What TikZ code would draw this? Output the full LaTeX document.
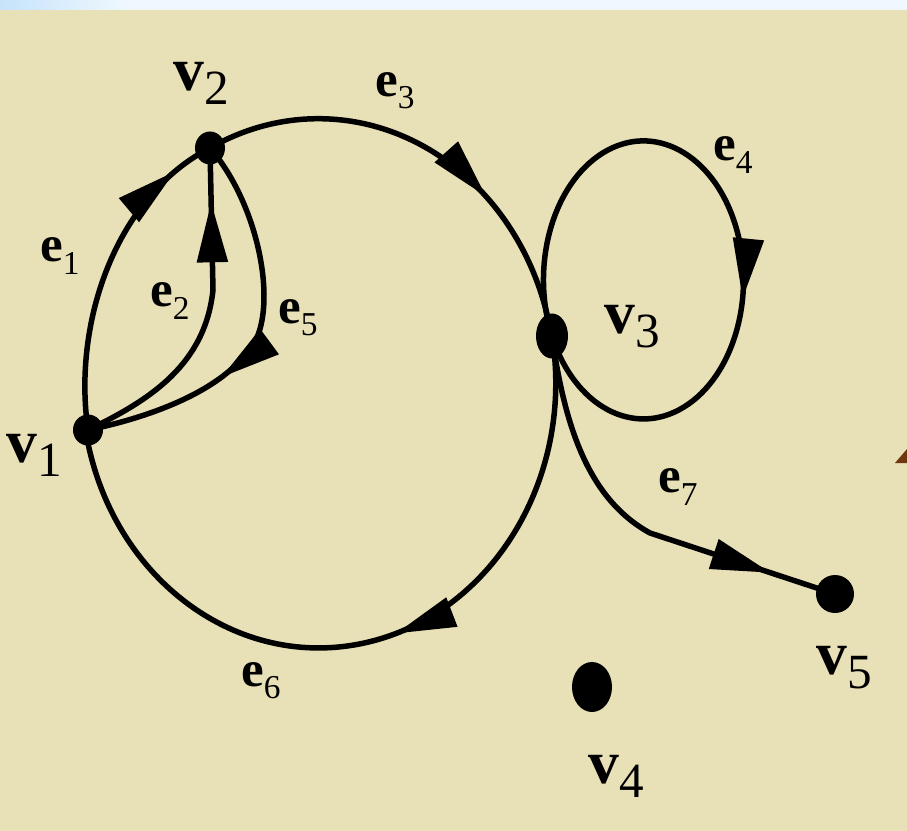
\documentclass[tikz,border=0pt]{standalone}
\usepackage{fontspec}
\setmainfont{Liberation Serif}
\usetikzlibrary{arrows.meta,decorations.markings,shapes.geometric}
\definecolor{paper}{RGB}{232,225,183}
\definecolor{topblue}{RGB}{198,227,251}
\definecolor{topwhite}{RGB}{240,248,253}
\definecolor{rim}{RGB}{110,55,15}
\newcommand{\vname}[1]{{\fontsize{35}{35}\selectfont\bfseries v}\raisebox{-8pt}{\fontsize{28}{28}\selectfont #1}}
\newcommand{\ename}[1]{{\fontsize{29}{29}\selectfont\bfseries e}\raisebox{-7pt}{\fontsize{19}{19}\selectfont #1}}
\tikzset{dot/.style={ellipse, fill=black, inner sep=0pt},
  link/.style={line width=1.1mm},
  arw/.style={postaction={decorate, decoration={markings, mark=at position #1 with {\arrow{Triangle[length=12mm,width=6mm]}}}}}}

\begin{document}
\begin{tikzpicture}[x=0.2mm, y=-0.2mm]
  \fill[paper] (0,0) rectangle (907,831);
  \shade[left color=topblue, right color=topwhite] (0,0) rectangle (130,10);
  \fill[topwhite] (130,0) rectangle (907,10);
  \fill[rim] (895,463) -- (907,449) -- (907,463) -- cycle;
  % vertices
  \node[dot, minimum width=6mm, minimum height=6.2mm] (v1) at (88,430) {};
  \node[dot, minimum width=6mm, minimum height=6.6mm] (v2) at (210,148) {};
  \node[dot, minimum width=6.4mm, minimum height=9mm] (v3) at (552,336) {};
  \node[dot, minimum width=8mm, minimum height=10mm] (v4) at (592,687) {};
  \node[dot, minimum width=7.6mm, minimum height=7.6mm] (v5) at (835,594) {};
  % edges
  \draw[link, arw=0.87] (v1.center) .. controls (72,320) and (118,195) .. (v2.center);
  \draw[link, arw=0.84] (v1.center) .. controls (150,400) and (205,365) .. (213,290) -- (v2.center);
  \draw[link, arw=0.64] (v2.center) .. controls (255,200) and (275,290) .. (258,335) .. controls (235,385) and (160,415) .. (v1.center);
  \draw[link, arw=0.66] (v2.center) arc[start angle=-117.2, end angle=-10.2, x radius=237, y radius=265];
  \draw[link, arw=0.46] (v3.center) arc[start angle=-10.2, end angle=169.7, x radius=237, y radius=265];
  \draw[link, arw=0.6] (v3.center) arc[start angle=156.2, end angle=516.2, x radius=100, y radius=139];
  \draw[link, arw=0.84] (v3.center) .. controls (565,430) and (590,500) .. (650,533) -- (v5.center);
  % labels
  \node (lv1) at (34,455) {\vname{1}};
  \node (lv2) at (201,83) {\vname{2}};
  \node (lv3) at (632,327) {\vname{3}};
  \node (lv4) at (616,776) {\vname{4}};
  \node (lv5) at (844,668) {\vname{5}};
  \node (le1) at (60,256) {\ename{1}};
  \node (le2) at (170,301) {\ename{2}};
  \node (le3) at (395,91) {\ename{3}};
  \node (le4) at (733,155) {\ename{4}};
  \node (le5) at (298,318) {\ename{5}};
  \node (le6) at (261,681) {\ename{6}};
  \node (le7) at (678,487) {\ename{7}};
\end{tikzpicture}
\end{document}
